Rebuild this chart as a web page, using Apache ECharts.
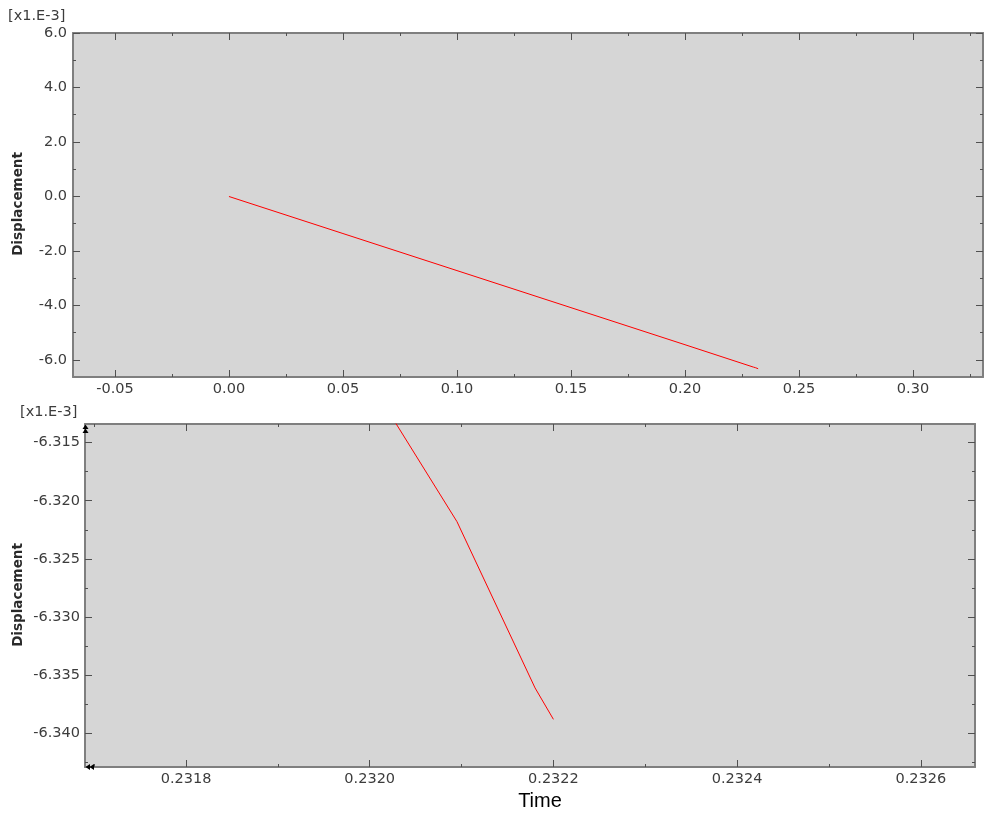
<!DOCTYPE html>
<html>
<head>
<meta charset="utf-8">
<script src="https://cdn.jsdelivr.net/npm/echarts@6/dist/echarts.min.js"></script>
<style>
html,body{margin:0;padding:0;background:#fff;}
#chart{width:989px;height:814px;}
</style>
</head>
<body>
<div id="chart"></div>
<script>
// ---- data (Displacement in units of 1e-3) ----
const timeValues = [0, 0.05, 0.10, 0.15, 0.20, 0.2300, 0.2310, 0.2318, 0.23201, 0.232095, 0.23218, 0.2322];
const dispValues = [0, -1.36, -2.72, -4.08, -5.44, -6.262, -6.285, -6.3055, -6.3110, -6.3218, -6.3361, -6.3388];

// ---- tick values ----
const topXMajor = [-0.05, 0.00, 0.05, 0.10, 0.15, 0.20, 0.25, 0.30];
const topXMinor = [-0.075, -0.025, 0.025, 0.075, 0.125, 0.175, 0.225, 0.275, 0.325];
const topYMajor = [-6.0, -4.0, -2.0, 0.0, 2.0, 4.0, 6.0];
const topYMinor = [-5.0, -3.0, -1.0, 1.0, 3.0, 5.0];
const botXMajor = [0.2318, 0.2320, 0.2322, 0.2324, 0.2326];
const botXMinor = [0.2317, 0.2319, 0.2321, 0.2323, 0.2325];
const botYMajor = [-6.340, -6.335, -6.330, -6.325, -6.320, -6.315];
const botYMinor = [-6.3425, -6.3375, -6.3325, -6.3275, -6.3225, -6.3175];

const topXRange = [-0.0684, 0.3307];
const topYRange = [-6.625, 6.0];
const botXRange = [0.23169, 0.232659];
const botYRange = [-6.3429, -6.3134];

const AXIS_COLOR = '#7f7f7f';
const TICK_COLOR = '#505050';
const LABEL_STYLE = {color: '#3c3c3c', fontFamily: 'DejaVu Sans', fontSize: 14.5};

function axisSet(kind, grid, range, majors, minors, digits, labelMargin) {
  const sides = kind === 'x' ? ['bottom', 'top'] : ['left', 'right'];
  const out = [];
  sides.forEach((pos, si) => {
    [true, false].forEach(isMajor => {
      out.push({
        type: 'value', gridIndex: grid, position: pos,
        min: range[0], max: range[1],
        axisLine: {show: isMajor, onZero: false, lineStyle: {color: AXIS_COLOR, width: 2}},
        axisTick: {show: true, inside: true, length: isMajor ? 7 : 3,
          customValues: isMajor ? majors : minors,
          lineStyle: {color: TICK_COLOR, width: 1}},
        axisLabel: (isMajor && si === 0) ? Object.assign({
          show: true, customValues: majors, margin: labelMargin,
          formatter: v => Number(v).toFixed(digits)
        }, LABEL_STYLE) : {show: false},
        splitLine: {show: false}
      });
    });
  });
  return out;
}

const xAxis = [].concat(
  axisSet('x', 0, topXRange, topXMajor, topXMinor, 2, 5),
  axisSet('x', 1, botXRange, botXMajor, botXMinor, 4, 5)
);
const yAxis = [].concat(
  axisSet('y', 0, topYRange, topYMajor, topYMinor, 1, 6),
  axisSet('y', 1, botYRange, botYMajor, botYMinor, 3, 5)
);

const pairs = timeValues.map((t, i) => [t, dispValues[i]]);

const chart = echarts.init(document.getElementById('chart'));
chart.setOption({
  animation: false,
  backgroundColor: '#ffffff',
  grid: [
    {left: 73, top: 33, width: 910, height: 344, show: true, backgroundColor: '#d6d6d6', borderWidth: 0, outerBoundsMode: 'none'},
    {left: 85, top: 424, width: 890, height: 343, show: true, backgroundColor: '#d6d6d6', borderWidth: 0, outerBoundsMode: 'none'}
  ],
  xAxis: xAxis,
  yAxis: yAxis,
  series: [
    {type: 'line', xAxisIndex: 0, yAxisIndex: 0, data: pairs, showSymbol: false, clip: true,
     lineStyle: {color: '#ff0000', width: 1}},
    {type: 'line', xAxisIndex: 4, yAxisIndex: 4, data: pairs, showSymbol: false, clip: true,
     lineStyle: {color: '#ff0000', width: 1}}
  ],
  graphic: {
    elements: [
      {type: 'text', x: 8, y: 16, style: {text: '[x1.E-3]', fill: '#3c3c3c', font: '14.5px "DejaVu Sans"', verticalAlign: 'middle'}},
      {type: 'text', x: 20, y: 412, style: {text: '[x1.E-3]', fill: '#3c3c3c', font: '14.5px "DejaVu Sans"', verticalAlign: 'middle'}},
      {type: 'text', x: 18, y: 204, rotation: Math.PI / 2, style: {text: 'Displacement', fill: '#2a2a2a', font: 'bold 13.5px "DejaVu Sans"', align: 'center', verticalAlign: 'middle'}},
      {type: 'text', x: 18, y: 595, rotation: Math.PI / 2, style: {text: 'Displacement', fill: '#2a2a2a', font: 'bold 13.5px "DejaVu Sans"', align: 'center', verticalAlign: 'middle'}},
      {type: 'text', x: 540, y: 801, style: {text: 'Time', fill: '#000000', font: '20px "Liberation Sans"', align: 'center', verticalAlign: 'middle'}},
      // clipping indicator arrows at the lower chart's corners
      {type: 'polygon', z: 100, shape: {points: [[82.5, 429], [85.5, 424.5], [88.5, 429]]}, style: {fill: '#000'}},
      {type: 'polygon', z: 100, shape: {points: [[82.5, 433], [85.5, 428.5], [88.5, 433]]}, style: {fill: '#000'}},
      {type: 'polygon', z: 100, shape: {points: [[90, 764], [85.5, 767], [90, 770]]}, style: {fill: '#000'}},
      {type: 'polygon', z: 100, shape: {points: [[94, 764], [89.5, 767], [94, 770]]}, style: {fill: '#000'}}
    ]
  }
});
</script>
</body>
</html>
